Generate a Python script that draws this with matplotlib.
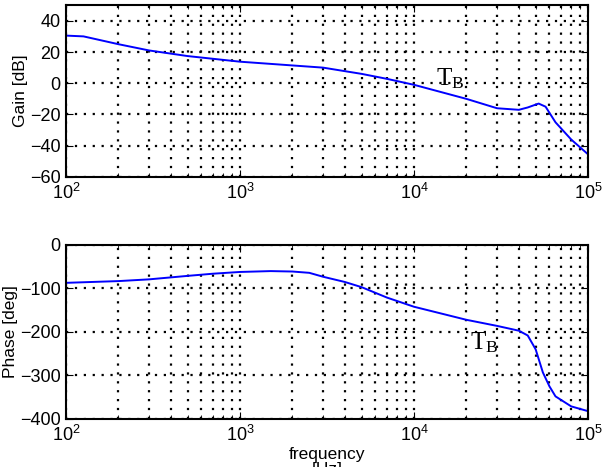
import numpy as np
import matplotlib.pyplot as plt
from matplotlib.ticker import LogLocator, NullFormatter

plt.rcParams['font.family'] = ['Liberation Sans', 'DejaVu Sans']
plt.rcParams['mathtext.fontset'] = 'custom'
plt.rcParams['mathtext.rm'] = 'Liberation Serif'
plt.rcParams['mathtext.it'] = 'Liberation Serif'

# values
gain_freq = [100, 126, 200, 300, 500, 1000, 2000, 3000, 5000, 7000, 10000,
             20000, 30000, 40000, 45000, 52000, 57000, 65000, 80000, 100000]
gain_db = [30.5, 30, 25, 21, 17.4, 13.8, 11.4, 10, 6, 2.8, -1,
           -10, -16, -17, -15.5, -13, -15, -25, -36, -45.5]

phase_freq = [100, 200, 300, 500, 700, 1000, 1500, 2000, 2500, 3000, 4000,
              5000, 7000, 10000, 20000, 30000, 40000, 45000, 50000, 55000,
              60000, 65000, 80000, 100000]
phase_deg = [-87, -83, -79, -71, -66, -62, -60, -61, -64, -73, -85,
             -97, -121, -142, -172, -186, -197, -208, -240, -293,
             -325, -348, -371, -382]

fig = plt.figure(figsize=(6.08, 4.67), dpi=100)
ax1 = fig.add_axes([0.1086, 0.621, 0.8586, 0.368])
ax2 = fig.add_axes([0.1086, 0.1028, 0.8586, 0.3726])

def style(ax):
    ax.set_xscale('log')
    ax.set_xlim(1e2, 1e5)
    ax.xaxis.set_minor_locator(LogLocator(base=10, subs=np.arange(2, 10)))
    ax.xaxis.set_minor_formatter(NullFormatter())
    ax.grid(True, which='both', color='black', linestyle=(0, (1, 3)), linewidth=1.6)
    ax.tick_params(which='both', direction='in', top=True, right=True,
                   labelsize=13, pad=4)
    ax.tick_params(which='major', length=5)
    ax.tick_params(which='minor', length=3)
    for s in ax.spines.values():
        s.set_linewidth(1.5)

ax1.plot(gain_freq, gain_db, color='blue', linewidth=1.4)
style(ax1)
ax1.set_ylim(-60, 50)
ax1.set_yticks([-60, -40, -20, 0, 20, 40])
ax1.set_ylabel('Gain [dB]', fontsize=12.5, labelpad=1)
ax1.text(1.33e4, -1.5, r'$\mathrm{T_B}$', fontsize=18, va='baseline')

ax2.plot(phase_freq, phase_deg, color='blue', linewidth=1.4)
style(ax2)
ax2.set_ylim(-400, 0)
ax2.set_yticks([-400, -300, -200, -100, 0])
ax2.set_ylabel('Phase [deg]', fontsize=12.5, labelpad=1)
ax2.set_xlabel('frequency\n[Hz]', fontsize=12.5, labelpad=2, linespacing=1.0)
ax2.text(2.1e4, -240, r'$\mathrm{T_B}$', fontsize=18, va='baseline')

fig.savefig('out.png', dpi=100)
